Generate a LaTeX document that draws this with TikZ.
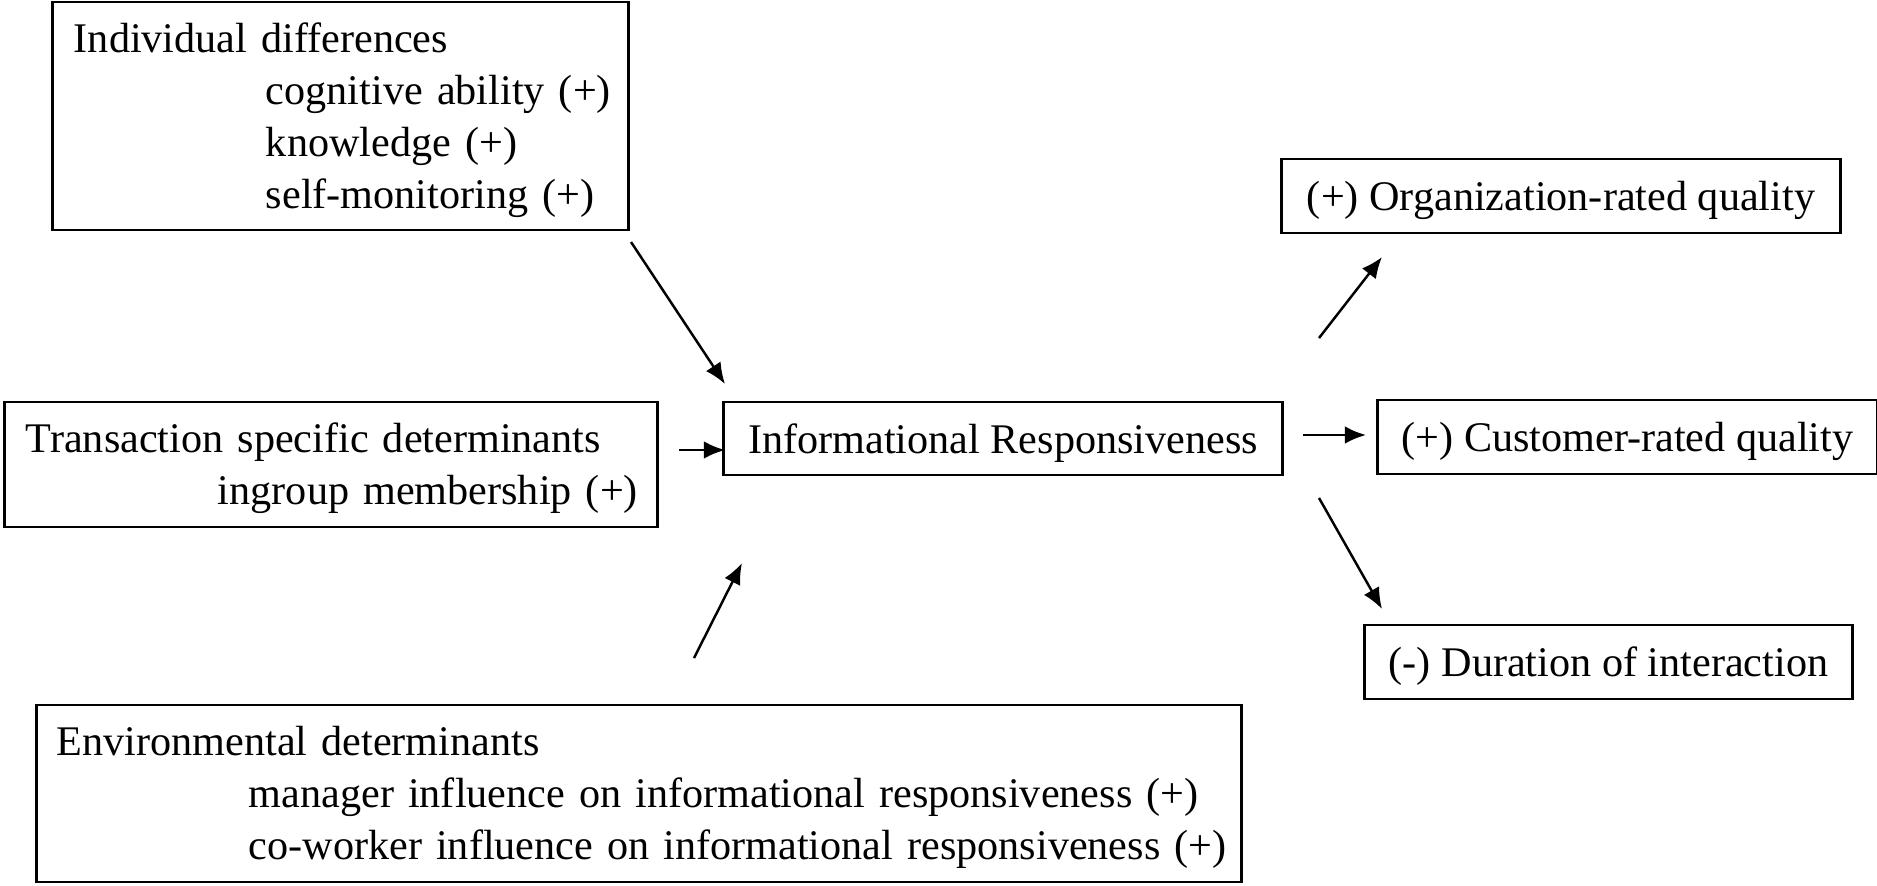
\documentclass[tikz,border=0pt]{standalone}
\usepackage{fontspec}
\setmainfont{Liberation Serif}
\usetikzlibrary{arrows.meta}

\tikzset{
  box/.style={draw, line width=0.8pt, inner sep=0pt, align=center, text depth=0pt,
    font=\fontsize{12}{14.8}\selectfont},
  listbox/.style={draw, line width=0.8pt, align=left, inner ysep=0pt,
    font=\fontsize{12}{14.8}\selectfont},
  arr/.style={-{Latex[length=6pt,width=5pt]}, line width=0.7pt}
}
\newcommand{\headentry}[1]{\rule{0pt}{10.6pt}\mbox{#1}}
\newcommand{\subentry}[1]{\hspace*{1.92cm}\mbox{#1}}

\begin{document}
\begin{tikzpicture}[x=0.01cm, y=-0.01cm]
\useasboundingbox (0,0) rectangle (1877,885);

% left hand boxes
\node [listbox, text width=5.33cm, inner xsep=0.21cm, minimum height=2.28cm] (ind) at (340.5,116)
  {\headentry{Individual differences}\\ \subentry{cognitive ability (+)}\\ \subentry{knowledge (+)}\\ \subentry{self-monitoring (+)}};
\node [listbox, text width=6.10cm, inner xsep=0.21cm, minimum height=1.25cm] (trans) at (331,464.5)
  {\headentry{Transaction specific determinants}\\ \subentry{ingroup membership (+)}};
\node [listbox, text width=11.64cm, inner xsep=0.20cm, minimum height=1.77cm] (env) at (639,793.5)
  {\headentry{Environmental determinants}\\ \subentry{manager influence on informational responsiveness (+)}\\ \subentry{co-worker influence on informational responsiveness (+)}};

% middle and right hand boxes
\node [box, minimum width=5.58cm, minimum height=0.73cm] (ir) at (1003,438.5) {Informational Responsiveness};
\node [box, minimum width=5.58cm, minimum height=0.74cm] (org) at (1561,196) {(+) Organization-rated quality};
\node [box, minimum width=4.99cm, minimum height=0.74cm] (cust) at (1627.5,437) {(+) Customer-rated quality};
\node [box, minimum width=4.87cm, minimum height=0.74cm] (dur) at (1608.5,662) {(-) Duration of interaction};

% arrow ends
\coordinate (0) at (631,242);
\coordinate (1) at (725,384);
\coordinate (2) at (679,450);
\coordinate (3) at (725,450);
\coordinate (4) at (694,658);
\coordinate (5) at (742,563);
\coordinate (6) at (1319,338);
\coordinate (7) at (1382,257);
\coordinate (8) at (1303,435);
\coordinate (9) at (1366,435);
\coordinate (10) at (1319,498);
\coordinate (11) at (1382,609);

\draw [arr] (0) -- (1);
\draw [arr] (2) -- (3);
\draw [arr] (4) -- (5);
\draw [arr] (6) -- (7);
\draw [arr] (8) -- (9);
\draw [arr] (10) -- (11);
\end{tikzpicture}
\end{document}
